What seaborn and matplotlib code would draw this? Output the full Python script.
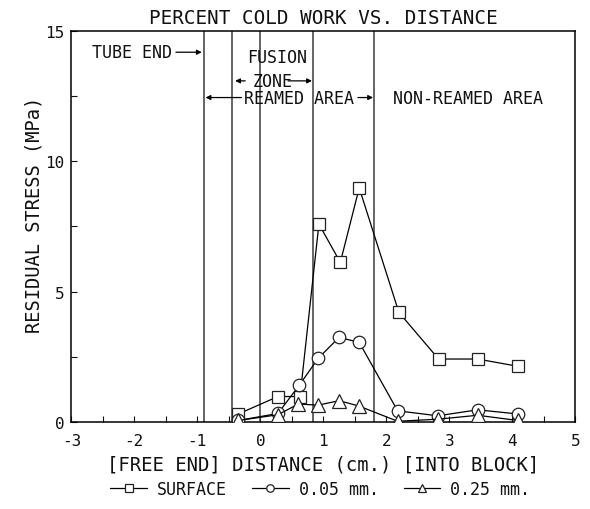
import matplotlib
matplotlib.use("Agg")
import matplotlib.pyplot as plt
import seaborn as sns
import pandas as pd
from matplotlib.ticker import MultipleLocator

sns.set_theme(style="white")
plt.rcParams['font.family'] = ['DejaVu Sans Mono', 'DejaVu Sans']
plt.rcParams['axes.unicode_minus'] = False

# Data
surf_x = [-0.35, 0.28, 0.63, 0.93, 1.27, 1.57, 2.20, 2.83, 3.45, 4.09]
surf_y = [0.30, 0.97, 0.97, 7.59, 6.12, 8.98, 4.20, 2.41, 2.41, 2.13]
c05_x = [-0.35, 0.28, 0.62, 0.92, 1.25, 1.57, 2.18, 2.82, 3.45, 4.09]
c05_y = [0.05, 0.32, 1.41, 2.44, 3.24, 3.05, 0.42, 0.23, 0.46, 0.30]
c25_x = [-0.35, 0.28, 0.60, 0.92, 1.25, 1.56, 2.18, 2.82, 3.45, 4.09]
c25_y = [0.05, 0.27, 0.68, 0.64, 0.81, 0.61, 0.02, 0.10, 0.25, 0.05]
series_names = ["SURFACE", "0.05 mm.", "0.25 mm."]
vlines_x = [-0.89, -0.455, 0.0, 0.83, 1.81]

fig = plt.figure(figsize=(5.9, 5.1), dpi=100)
ax = fig.add_axes([0.121, 0.171, 0.854, 0.766])

markers = ["s", "o", "^"]
msizes = [8.5, 9.0, 10.0]
for name, xs, ys, m, ms in zip(series_names, [surf_x, c05_x, c25_x], [surf_y, c05_y, c25_y], markers, msizes):
    df = pd.DataFrame({"x": xs, "y": ys})
    sns.lineplot(data=df, x="x", y="y", ax=ax, color="black", lw=0.9,
                 marker=m, markersize=ms, markerfacecolor="white",
                 markeredgecolor="#222222", markeredgewidth=0.9,
                 label=name, sort=False, zorder=3)

for vx in vlines_x:
    ax.axvline(vx, color="#3a3a3a", lw=1.1, zorder=1)

ax.set_xlim(-3, 5)
ax.set_ylim(0, 15)
ax.xaxis.set_major_locator(MultipleLocator(1))
ax.xaxis.set_minor_locator(MultipleLocator(0.5))
ax.yaxis.set_major_locator(MultipleLocator(5))
ax.yaxis.set_minor_locator(MultipleLocator(2.5))
ax.tick_params(which="both", direction="in", bottom=True, left=True, top=False, right=False,
               labelsize=11.5, colors="#111111", pad=5)
ax.tick_params(axis="x", which="both", pad=8)
ax.tick_params(which="both", length=4, width=0.8)
for s in ax.spines.values():
    s.set_color("black")
    s.set_linewidth(1.1)

ax.set_xlabel("[FREE END] DISTANCE (cm.) [INTO BLOCK]", fontsize=13.6, labelpad=5, color="#111111")
ax.set_ylabel("RESIDUAL STRESS (MPa)", fontsize=13.5, color="#111111")
ax.yaxis.set_label_coords(-0.055, 0.532)
ax.set_title("PERCENT COLD WORK VS. DISTANCE", fontsize=13.9, pad=6, color="#111111")

# annotations
tk = dict(fontsize=12, color="#111111")
ap = dict(arrowstyle="-|>", color="black", lw=0.9, mutation_scale=7, shrinkA=0, shrinkB=0)
ax.text(-2.67, 14.19, "TUBE END", ha="left", va="center", **tk)
ax.annotate("", xy=(-0.93, 14.19), xytext=(-1.34, 14.19), arrowprops=ap)
ax.text(0.27, 13.99, "FUSION", ha="center", va="center", **tk)
ax.text(0.19, 13.09, "ZONE", ha="center", va="center", **tk)
ax.annotate("", xy=(-0.40, 13.09), xytext=(-0.24, 13.09), arrowprops=ap)
ax.annotate("", xy=(0.82, 13.09), xytext=(0.44, 13.09), arrowprops=ap)
ax.text(0.62, 12.45, "REAMED AREA", ha="center", va="center", **tk)
ax.annotate("", xy=(-0.87, 12.45), xytext=(-0.30, 12.45), arrowprops=ap)
ax.annotate("", xy=(1.79, 12.45), xytext=(1.55, 12.45), arrowprops=ap)
ax.text(3.29, 12.45, "NON-REAMED AREA", ha="center", va="center", **tk)

leg = ax.legend(loc="center", bbox_to_anchor=(0.494, -0.172), ncol=3, frameon=False,
                fontsize=12, handlelength=2.2, columnspacing=1.5, handletextpad=0.6,
                markerscale=0.6)
for t in leg.get_texts():
    t.set_color("#111111")

fig.savefig("out.png", dpi=100)
